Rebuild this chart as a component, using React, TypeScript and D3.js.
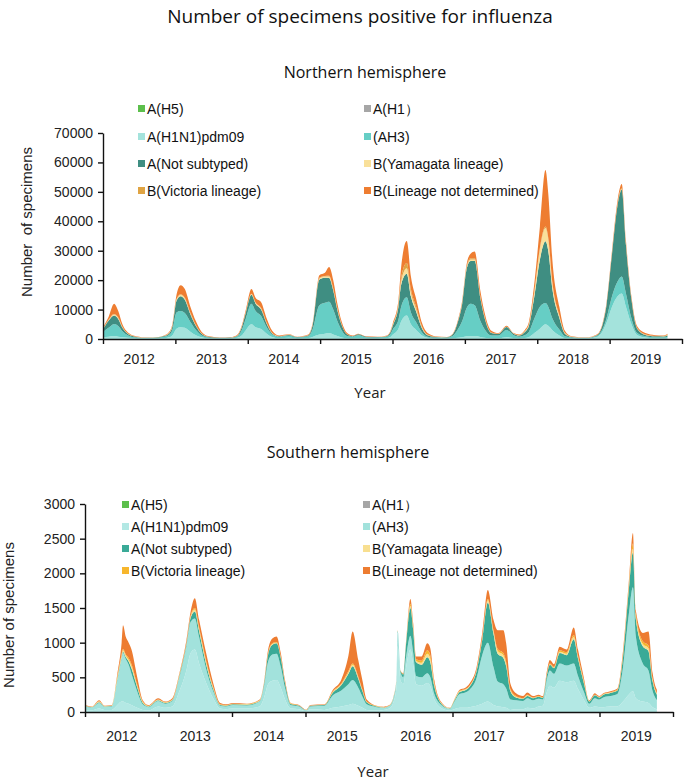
import React, { useEffect, useRef } from "react";
import * as d3 from "d3";

const W = 685;
const H = 782;
const WEEKS_PER_YEAR = 52.18;

const yearLabels = ["2012", "2013", "2014", "2015", "2016", "2017", "2018", "2019"];
const seriesLabels = [
  "A(H5)",
  "A(H1）",
  "A(H1N1)pdm09",
  "(AH3)",
  "A(Not subtyped)",
  "B(Yamagata lineage)",
  "B(Victoria lineage)",
  "B(Lineage not determined)",
];
const legendKeys = ["h5", "h1", "pdm", "ah3", "ns", "yam", "vic", "bnd"];
const stackKeys = ["pdm", "ah3", "ns", "yam", "vic", "bnd"];

const northYTicks = [0, 10000, 20000, 30000, 40000, 50000, 60000, 70000];
const southYTicks = [0, 500, 1000, 1500, 2000, 2500, 3000];

// ---------- Northern hemisphere (weeks since start of 2012) ----------
const northWeeks = [0, 4, 8, 11, 14, 18, 24, 32, 40, 44, 47, 50, 53, 56, 59, 63, 67, 71, 76, 84, 92, 97, 100, 103, 107, 110, 114, 118, 122, 127, 134, 140, 148, 151, 156, 160, 163, 166, 169, 172, 176, 180, 184, 190, 198, 204, 207, 209, 213, 215, 219, 222, 226, 230, 234, 240, 248, 252, 256, 259, 262, 265, 268, 272, 275, 280, 285, 291, 296, 300, 304, 307, 311, 315, 319, 321, 324, 329, 333, 338, 348, 356, 360, 363, 367, 371, 374, 377, 381, 385, 391, 398, 404, 407];
const northPdm = [600, 800, 900, 800, 600, 400, 200, 150, 200, 300, 500, 1200, 3500, 4000, 3800, 2500, 1300, 600, 250, 150, 150, 400, 1200, 3000, 5000, 4000, 3400, 1800, 700, 300, 400, 200, 300, 700, 1500, 1800, 2000, 1500, 1000, 500, 200, 150, 300, 200, 200, 250, 600, 1500, 3500, 6000, 8000, 5000, 3000, 1200, 400, 200, 150, 200, 400, 600, 900, 1000, 1000, 700, 400, 150, 200, 600, 300, 200, 300, 600, 2000, 3500, 5000, 4500, 3000, 1200, 300, 200, 150, 700, 2500, 5500, 11000, 14500, 15500, 11000, 5000, 1400, 500, 300, 300, 400];
const northAH3 = [1800, 3000, 4200, 3600, 2000, 800, 300, 150, 250, 450, 700, 1800, 5500, 5500, 5000, 3300, 1800, 700, 300, 150, 200, 500, 1800, 4000, 7000, 5500, 4400, 2200, 800, 400, 700, 300, 600, 2400, 10000, 10500, 10700, 8500, 5000, 2500, 800, 600, 1000, 400, 300, 400, 900, 1700, 3000, 5000, 6200, 4000, 2500, 1000, 400, 300, 300, 800, 3000, 5500, 9500, 11000, 10500, 5500, 3000, 1000, 1000, 2500, 1000, 600, 1000, 1800, 5000, 7500, 7200, 6500, 4000, 2000, 600, 300, 150, 300, 700, 1500, 3500, 5000, 5700, 4500, 2000, 700, 400, 300, 300, 400];
const northNS = [900, 2400, 2900, 2400, 1200, 500, 200, 100, 150, 250, 400, 1200, 4000, 5000, 4500, 2600, 1300, 500, 200, 100, 150, 300, 900, 2000, 3000, 2500, 2200, 1200, 400, 200, 300, 150, 300, 1300, 8700, 8500, 8000, 6500, 3800, 1800, 500, 200, 300, 150, 150, 200, 600, 1400, 4500, 7500, 8000, 5500, 3500, 1400, 500, 200, 150, 500, 2600, 6000, 13000, 14500, 15000, 7800, 4000, 900, 500, 1000, 500, 400, 1000, 2000, 7500, 16000, 21000, 19000, 10000, 4000, 900, 200, 100, 300, 1400, 4500, 14500, 26000, 29500, 16500, 6300, 1500, 500, 300, 250, 400];
const northYam = [100, 200, 300, 300, 200, 100, 50, 20, 20, 40, 100, 200, 400, 500, 500, 300, 200, 100, 50, 20, 20, 50, 150, 200, 300, 300, 300, 200, 100, 50, 20, 20, 40, 150, 400, 400, 500, 400, 300, 150, 50, 30, 20, 20, 20, 50, 100, 200, 500, 1200, 1800, 1200, 800, 300, 100, 40, 20, 50, 100, 200, 400, 500, 500, 300, 200, 100, 50, 50, 30, 50, 200, 400, 1500, 3500, 4500, 4000, 2000, 700, 200, 40, 20, 20, 50, 100, 150, 200, 200, 200, 100, 50, 50, 50, 50, 100];
const northVic = [100, 100, 200, 200, 100, 100, 50, 20, 20, 40, 50, 100, 200, 200, 200, 200, 100, 50, 30, 20, 20, 50, 50, 100, 100, 100, 200, 100, 50, 30, 20, 20, 30, 50, 200, 200, 300, 200, 150, 100, 50, 30, 20, 20, 20, 50, 50, 100, 500, 1200, 1800, 1200, 800, 300, 100, 40, 20, 50, 100, 200, 300, 400, 400, 300, 200, 50, 50, 50, 30, 50, 100, 100, 300, 500, 500, 500, 300, 200, 100, 30, 20, 20, 50, 100, 150, 300, 400, 400, 300, 200, 150, 100, 100, 200];
const northBnd = [500, 1000, 3500, 2200, 900, 300, 100, 60, 60, 120, 250, 500, 1400, 3100, 3000, 2100, 1300, 550, 170, 60, 60, 200, 400, 700, 1600, 1600, 2000, 1500, 750, 220, 160, 110, 230, 400, 900, 1100, 3000, 2900, 1750, 950, 400, 190, 160, 110, 110, 150, 250, 500, 1200, 3700, 7500, 4300, 2600, 1200, 500, 120, 60, 100, 400, 700, 900, 1600, 2300, 2000, 1400, 600, 200, 300, 140, 200, 400, 800, 2700, 7200, 19200, 15000, 7500, 2900, 700, 130, 60, 160, 300, 500, 900, 1200, 1400, 1000, 700, 550, 400, 250, 200, 300];

// ---------- Southern hemisphere (weeks since start of 2012) ----------
const southWeeks = [0, 5, 10, 14, 19, 23, 26, 27, 29, 31, 33, 37, 41, 45, 52, 57, 62, 67, 72, 75, 78, 81, 86, 91, 96, 100, 105, 115, 124, 127, 130, 133, 136, 139, 142, 146, 152, 157, 160, 170, 176, 182, 187, 190, 194, 197, 200, 207, 212, 216, 219, 221, 222, 224, 226, 228, 231, 233, 235, 239, 243, 245, 248, 252, 259, 262, 266, 270, 273, 278, 282, 286, 290, 293, 297, 299, 302, 306, 311, 314, 318, 322, 325, 328, 330, 333, 337, 342, 347, 350, 354, 358, 362, 365, 368, 373, 378, 382, 386, 389, 391, 396, 400, 403, 406];
const southPdm = [30, 25, 50, 30, 30, 100, 150, 150, 130, 120, 100, 60, 30, 20, 80, 60, 80, 300, 600, 850, 900, 700, 420, 200, 50, 40, 50, 50, 80, 200, 400, 450, 460, 350, 180, 50, 40, 10, 40, 30, 60, 80, 100, 120, 90, 60, 30, 20, 30, 50, 140, 330, 950, 450, 400, 650, 900, 680, 400, 380, 420, 380, 180, 70, 20, 40, 60, 60, 70, 90, 120, 150, 100, 80, 70, 60, 30, 40, 40, 60, 50, 80, 90, 300, 380, 350, 450, 430, 450, 330, 180, 60, 80, 70, 70, 80, 80, 150, 250, 300, 200, 150, 130, 70, 40];
const southAH3 = [50, 40, 80, 45, 50, 360, 620, 700, 630, 560, 450, 240, 80, 50, 80, 60, 80, 200, 350, 450, 450, 380, 200, 100, 40, 40, 50, 45, 70, 160, 330, 380, 380, 300, 170, 50, 40, 15, 40, 60, 180, 230, 300, 340, 260, 160, 80, 50, 30, 35, 60, 100, 200, 120, 100, 150, 200, 170, 120, 120, 140, 130, 80, 50, 25, 100, 200, 220, 250, 400, 700, 850, 550, 360, 330, 280, 150, 130, 120, 140, 120, 110, 90, 180, 220, 200, 250, 240, 250, 190, 120, 60, 120, 110, 140, 150, 180, 500, 1150, 1500, 900, 550, 470, 230, 130];
const southNS = [5, 5, 10, 5, 5, 20, 20, 20, 30, 50, 80, 60, 20, 10, 10, 10, 10, 20, 30, 60, 100, 90, 70, 30, 10, 10, 10, 10, 10, 30, 100, 140, 150, 130, 70, 15, 10, 2, 10, 10, 40, 80, 150, 200, 130, 80, 30, 10, 5, 5, 10, 15, 20, 20, 40, 200, 400, 330, 200, 180, 230, 220, 110, 25, 5, 15, 30, 35, 45, 100, 220, 580, 480, 400, 380, 320, 120, 40, 30, 30, 30, 30, 25, 60, 80, 80, 150, 150, 350, 250, 130, 30, 40, 30, 40, 45, 50, 150, 350, 500, 250, 250, 280, 140, 80];
const southYam = [5, 3, 10, 3, 5, 20, 20, 20, 20, 20, 30, 20, 10, 5, 5, 5, 5, 10, 10, 20, 30, 30, 30, 15, 5, 5, 5, 5, 5, 10, 10, 10, 10, 10, 5, 5, 3, 1, 3, 3, 10, 10, 20, 20, 15, 10, 5, 3, 3, 3, 3, 5, 3, 3, 5, 10, 30, 25, 20, 30, 50, 50, 20, 5, 3, 5, 10, 10, 10, 15, 20, 30, 30, 40, 40, 30, 15, 10, 5, 10, 5, 5, 5, 10, 10, 10, 20, 20, 30, 20, 15, 5, 5, 5, 5, 5, 5, 10, 30, 50, 30, 30, 40, 20, 10];
const southVic = [5, 2, 5, 2, 5, 20, 20, 20, 20, 30, 30, 20, 10, 5, 5, 5, 5, 10, 10, 10, 20, 20, 20, 15, 5, 5, 5, 5, 5, 5, 10, 10, 10, 10, 5, 5, 2, 1, 2, 2, 10, 10, 20, 20, 15, 10, 5, 2, 2, 2, 2, 5, 2, 2, 5, 10, 30, 25, 20, 30, 50, 50, 20, 5, 2, 5, 5, 5, 5, 5, 10, 20, 20, 30, 30, 30, 15, 10, 5, 10, 5, 5, 5, 10, 10, 10, 20, 20, 30, 20, 15, 5, 5, 5, 5, 5, 10, 30, 30, 80, 40, 40, 40, 20, 10];
const southBnd = [5, 5, 15, 5, 5, 40, 170, 340, 250, 220, 210, 110, 20, 10, 20, 10, 20, 20, 40, 60, 140, 110, 110, 60, 20, 10, 10, 5, 10, 15, 50, 70, 80, 50, 30, 5, 5, 1, 5, 5, 20, 60, 220, 460, 240, 130, 30, 5, 5, 5, 5, 5, 5, 5, 10, 20, 70, 50, 40, 60, 100, 100, 50, 15, 5, 5, 15, 20, 30, 40, 70, 130, 150, 270, 330, 270, 80, 40, 30, 30, 20, 20, 15, 40, 50, 40, 50, 40, 110, 90, 50, 10, 20, 10, 10, 15, 15, 50, 50, 150, 50, 120, 200, 80, 50];

const northColors: Record<string, string> = {
  h5: "#5cbf4c", h1: "#a6a6a6", pdm: "#a4e3dc", ah3: "#66cec5", ns: "#3f8e82",
  yam: "#f9e09a", vic: "#e0a443", bnd: "#ee7d31",
};
const southColors: Record<string, string> = {
  h5: "#5cbf4c", h1: "#a6a6a6", pdm: "#b3e8e4", ah3: "#a2e2dc", ns: "#3aaa97",
  yam: "#f8df90", vic: "#f7b62c", bnd: "#ed7c31",
};

type PanelCfg = {
  weeks: number[];
  series: Record<string, number[]>;
  colors: Record<string, string>;
  x0: number; x1: number; yTop: number; yBottom: number; yMax: number;
  yTicks: number[];
  subtitle: string; subtitleX: number; subtitleY: number;
  yLabel: string; yLabelX: number; yLabelY: number;
  yearY: number; xTitleX: number; xTitleY: number;
  legendX: number[]; legendRowY: number[];
};

function Panel({ cfg }: { cfg: PanelCfg }) {
  const yAxisRef = useRef<SVGGElement>(null);
  const xAxisRef = useRef<SVGGElement>(null);
  const x = d3.scaleLinear().domain([0, 8 * WEEKS_PER_YEAR]).range([cfg.x0, cfg.x1]);
  const y = d3.scaleLinear().domain([0, cfg.yMax]).range([cfg.yBottom, cfg.yTop]);

  const rows = cfg.weeks.map((w, i) => {
    const r: any = { w };
    stackKeys.forEach((k) => (r[k] = cfg.series[k][i]));
    return r;
  });
  const stacked = d3.stack<any>().keys(stackKeys)(rows);
  const area = d3
    .area<any>()
    .x((d) => x(d.data.w))
    .y0((d) => y(d[0]))
    .y1((d) => y(d[1]))
    .curve(d3.curveMonotoneX);

  useEffect(() => {
    const ya = d3
      .axisLeft(y)
      .tickValues(cfg.yTicks)
      .tickSize(5)
      .tickSizeOuter(0)
      .tickPadding(5)
      .tickFormat(d3.format("d") as any);
    const gy = d3.select(yAxisRef.current!);
    gy.call(ya as any);
    gy.selectAll("path,line").attr("stroke", "#111").attr("stroke-width", 1.4);
    gy.selectAll("text")
      .attr("font-family", "'Liberation Sans', Arial, sans-serif")
      .attr("font-size", 14)
      .attr("fill", "#222");

    const xa = d3
      .axisBottom(x)
      .tickValues(d3.range(0, 9).map((i) => i * WEEKS_PER_YEAR))
      .tickSize(5)
      .tickSizeOuter(0)
      .tickFormat(() => "");
    const gx = d3.select(xAxisRef.current!);
    gx.call(xa as any);
    gx.selectAll("path,line").attr("stroke", "#111").attr("stroke-width", 1.4);
  });

  return (
    <g>
      <text
        x={cfg.subtitleX}
        y={cfg.subtitleY}
        textAnchor="middle"
        fontFamily="'Open Sans', sans-serif"
        fontSize={16}
        fill="#111"
      >
        {cfg.subtitle}
      </text>
      {stacked.map((s) => (
        <path key={s.key} d={area(s as any) || ""} fill={cfg.colors[s.key]} />
      ))}
      <g ref={yAxisRef} transform={`translate(${cfg.x0},0)`} />
      <g ref={xAxisRef} transform={`translate(0,${cfg.yBottom})`} />
      {yearLabels.map((yl, i) => (
        <text
          key={yl}
          x={x((i + 0.5) * WEEKS_PER_YEAR)}
          y={cfg.yearY}
          textAnchor="middle"
          fontFamily="'Liberation Sans', Arial, sans-serif"
          fontSize={14}
          fill="#222"
        >
          {yl}
        </text>
      ))}
      <text
        x={cfg.xTitleX}
        y={cfg.xTitleY}
        textAnchor="middle"
        fontFamily="'Open Sans', sans-serif"
        fontSize={15}
        fill="#222"
      >
        Year
      </text>
      <text
        transform={`translate(${cfg.yLabelX},${cfg.yLabelY}) rotate(-90)`}
        textAnchor="middle"
        fontFamily="'Liberation Sans', Arial, sans-serif"
        fontSize={15}
        fill="#222"
        style={{ whiteSpace: "pre" }}
      >
        {cfg.yLabel}
      </text>
      {legendKeys.map((k, i) => {
        const col = i % 2;
        const row = Math.floor(i / 2);
        const lx = cfg.legendX[col];
        const ly = cfg.legendRowY[row];
        return (
          <g key={k}>
            <rect x={lx} y={ly - 4} width={7} height={7} fill={cfg.colors[k]} />
            <text
              x={lx + 9}
              y={ly + 5}
              fontFamily="'Liberation Sans', Arial, sans-serif"
              fontSize={14}
              fill="#111"
            >
              {seriesLabels[i]}
            </text>
          </g>
        );
      })}
    </g>
  );
}

const northCfg: PanelCfg = {
  weeks: northWeeks,
  series: { pdm: northPdm, ah3: northAH3, ns: northNS, yam: northYam, vic: northVic, bnd: northBnd },
  colors: northColors,
  x0: 103, x1: 682, yTop: 133, yBottom: 339, yMax: 70000,
  yTicks: northYTicks,
  subtitle: "Northern hemisphere", subtitleX: 365, subtitleY: 78,
  yLabel: "Number  of specimens", yLabelX: 32, yLabelY: 222,
  yearY: 364, xTitleX: 370, xTitleY: 398,
  legendX: [138, 364], legendRowY: [109, 137, 164, 191],
};

const southCfg: PanelCfg = {
  weeks: southWeeks,
  series: { pdm: southPdm, ah3: southAH3, ns: southNS, yam: southYam, vic: southVic, bnd: southBnd },
  colors: southColors,
  x0: 85, x1: 673, yTop: 504, yBottom: 712, yMax: 3000,
  yTicks: southYTicks,
  subtitle: "Southern hemisphere", subtitleX: 348, subtitleY: 458,
  yLabel: "Number of specimens", yLabelX: 14, yLabelY: 615,
  yearY: 741, xTitleX: 373, xTitleY: 777,
  legendX: [122, 363], legendRowY: [505, 527, 549, 571],
};

export default function App() {
  return (
    <svg
      width={W}
      height={H}
      viewBox={`0 0 ${W} ${H}`}
      style={{ position: "absolute", left: 0, top: 0, background: "#fff" }}
    >
      <rect width={W} height={H} fill="#fff" />
      <text
        x={360}
        y={23}
        textAnchor="middle"
        fontFamily="'Open Sans', sans-serif"
        fontSize={19}
        fill="#111"
      >
        Number of specimens positive for influenza
      </text>
      <Panel cfg={northCfg} />
      <Panel cfg={southCfg} />
    </svg>
  );
}
